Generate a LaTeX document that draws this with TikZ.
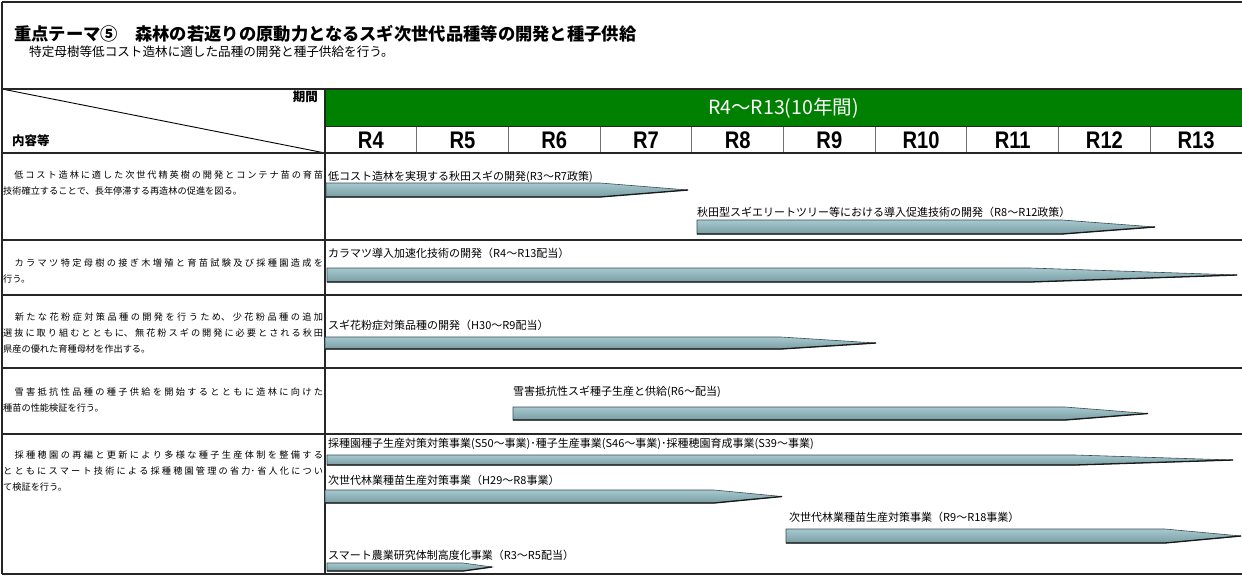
\documentclass[tikz,border=0pt]{standalone}
\usepackage{fontspec}
\setmainfont{Noto Sans CJK JP}
\newfontfamily\yearfont[FakeStretch=0.84]{Liberation Sans}
\XeTeXlinebreaklocale "ja"
\XeTeXlinebreakskip=0pt plus 1fil
\definecolor{hdrgreen}{HTML}{008000}
\definecolor{bartop}{HTML}{A6C9D0}
\definecolor{barmid}{HTML}{BEDCE2}
\definecolor{barbot}{HTML}{7A9DA4}
\definecolor{baredgec}{HTML}{3A4C50}
\tikzset{
  gridline/.style={draw=black!85, line width=1.2pt},
  yearsep/.style={draw=black!55, line width=0.9pt},
  rowtxt/.style={anchor=north west, inner sep=0pt, text width=320pt, align=justify,
    font=\fontsize{9.2}{16}\selectfont},
  lbl/.style={anchor=west, inner sep=0pt, font=\fontsize{11}{11}\selectfont},
  yr/.style={inner sep=0pt, font=\yearfont\bfseries\fontsize{24}{24}\selectfont},
  barshade/.style={top color=bartop, middle color=barmid, bottom color=barbot},
  baredge/.style={draw=baredgec, line width=0.6pt, line join=miter},
  barshadow/.style={draw=black!90, line width=1.3pt},
}
\newcommand{\ganttbar}[5]{%
  \shade[barshade] (#1,#4) -- (#2,#4) -- (#3,{(#4+#5)/2}) -- (#2,#5) -- (#1,#5) -- cycle;
  \draw[baredge] (#1,#4) -- (#2,#4) -- (#3,{(#4+#5)/2}) -- (#2,#5) -- (#1,#5) -- cycle;
  \draw[barshadow] (#1,#5) -- (#2,#5) -- (#3,{(#4+#5)/2});
}
\newcommand{\lastfill}{\hskip 0pt plus 1filll\kern0pt\relax}
\begin{document}
\begin{tikzpicture}[x=1pt,y=-1pt]
\useasboundingbox (0,0) rectangle (1242,576);
\fill[white] (0,0) rectangle (1242,576);
% title
\node[anchor=west, inner sep=0pt, font=\bfseries\fontsize{17.3}{18}\selectfont] (title) at (14,34) {重点テーマ⑤　森林の若返りの原動力となるスギ次世代品種等の開発と種子供給};
\node[anchor=west, inner sep=0pt, font=\fontsize{12.6}{14}\selectfont] (subtitle) at (29,52) {特定母樹等低コスト造林に適した品種の開発と種子供給を行う。};
% header green
\fill[hdrgreen] (325,89) rectangle (1242,126);
\node[inner sep=0pt, text=white, font=\fontsize{19.5}{20}\selectfont] (period) at (783.5,108) {R4～R13(10年間)};
% year labels
\foreach \k/\lab in {0/R4,1/R5,2/R6,3/R7,4/R8,5/R9,6/R10,7/R11,8/R12,9/R13}{
  \node[yr] (yr\k) at ({370.85+91.7*\k},140) {\lab};
}
\foreach \k in {1,...,9}{
  \draw[yearsep] ({325+91.7*\k},126) -- ({325+91.7*\k},153);
}
% header left
\node[anchor=east, inner sep=0pt, font=\bfseries\fontsize{12.5}{13}\selectfont] (kikan) at (318,96.5) {期間};
\node[anchor=west, inner sep=0pt, font=\bfseries\fontsize{12.5}{13}\selectfont] (naiyo) at (12,141) {内容等};
\draw[black, line width=0.9pt] (2,89) -- (325,153);
% grid
\draw[gridline] (2,2) -- (1242,2);
\draw[gridline] (2,2) -- (2,574);
\draw[gridline] (2,89) -- (1242,89);
\draw[draw=black!85, line width=0.9pt] (325,126) -- (1242,126);
\foreach \yy in {153,240,295,368,434,574}{
  \draw[gridline] (2,\yy) -- (1242,\yy);
}
\draw[gridline] (325,89) -- (325,574);
% row texts
\node[rowtxt] (r1) at (3,170.7) {　低コスト造林に適した次世代精英樹の開発とコンテナ苗の育苗\linebreak 技術確立することで、長年停滞する再造林の促進を図る。\lastfill};
\node[rowtxt] (r2) at (3,258.7) {　カラマツ特定母樹の接ぎ木増殖と育苗試験及び採種園造成を\linebreak 行う。\lastfill};
\node[rowtxt] (r3) at (3,312.4) {　新たな花粉症対策品種の開発を行うため、少花粉品種の追加\linebreak 選抜に取り組むとともに、無花粉スギの開発に必要とされる秋田\linebreak 県産の優れた育種母材を作出する。\lastfill};
\node[rowtxt] (r4) at (3,387.4) {　雪害抵抗性品種の種子供給を開始するとともに造林に向けた\linebreak 種苗の性能検証を行う。\lastfill};
\node[rowtxt] (r5) at (3,450.7) {　採種穂園の再編と更新により多様な種子生産体制を整備する\linebreak とともにスマート技術による採種穂園管理の省力･省人化につい\linebreak て検証を行う。\lastfill};
% bars
\ganttbar{326}{600}{688}{183}{197}
\ganttbar{697}{1062}{1155}{220}{234}
\ganttbar{327}{1030}{1237}{268}{282}
\ganttbar{325}{781}{876}{337}{349}
\ganttbar{513}{1065}{1148}{407}{420}
\ganttbar{327}{1075}{1233}{455}{465}
\ganttbar{325}{714}{782}{490}{503}
\ganttbar{786}{1165}{1241}{529}{543}
\ganttbar{327}{463}{492}{563}{571}
% bar labels
\node[lbl] (l1) at (328,176.7) {低コスト造林を実現する秋田スギの開発(R3～R7政策)};
\node[lbl] (l2) at (697,212) {秋田型スギエリートツリー等における導入促進技術の開発（R8～R12政策）};
\node[lbl] (l3) at (328,253) {カラマツ導入加速化技術の開発（R4～R13配当）};
\node[lbl] (l4) at (328,325) {スギ花粉症対策品種の開発（H30～R9配当）};
\node[lbl] (l5) at (513,392) {雪害抵抗性スギ種子生産と供給(R6～配当)};
\node[lbl] (l6) at (328,444) {採種園種子生産対策対策事業(S50～事業)･種子生産事業(S46～事業)･採種穂園育成事業(S39～事業)};
\node[lbl] (l7) at (328,480) {次世代林業種苗生産対策事業（H29～R8事業）};
\node[lbl] (l8) at (789,517) {次世代林業種苗生産対策事業（R9～R18事業）};
\node[lbl] (l9) at (328,555) {スマート農業研究体制高度化事業（R3～R5配当）};
\end{tikzpicture}
\end{document}
